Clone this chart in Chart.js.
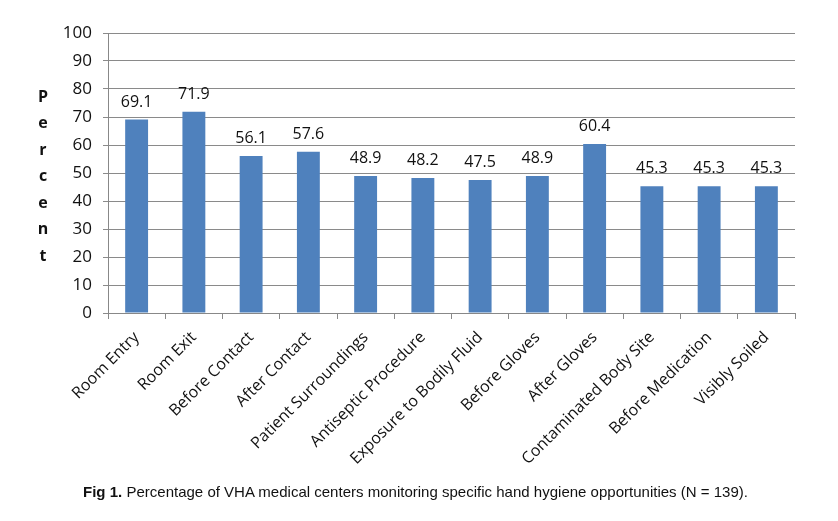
<!DOCTYPE html>
<html>
<head>
<meta charset="utf-8">
<script src="https://cdn.jsdelivr.net/npm/chart.js@4"></script>
<style>
  html, body { margin: 0; padding: 0; background: #fff; }
  #wrap { position: relative; width: 838px; height: 521px; }
  #c { position: absolute; left: 0; top: 0; }
  #caption { position: absolute; left: 83px; top: 483px; white-space: nowrap;
    font-family: "Liberation Sans Narrow", "Liberation Sans", sans-serif; font-size: 15px; color: #111;
    transform-origin: 0 0; }
  #caption b { font-weight: bold; }
</style>
</head>
<body>
<div id="wrap">
  <canvas id="c" width="838" height="521"></canvas>
  <div id="caption"><b>Fig 1.</b> Percentage of VHA medical centers monitoring specific hand hygiene opportunities (N = 139).</div>
</div>
<script>
const categories = ["Room Entry", "Room Exit", "Before Contact", "After Contact", "Patient Surroundings",
  "Antiseptic Procedure", "Exposure to Bodily Fluid", "Before Gloves", "After Gloves",
  "Contaminated Body Site", "Before Medication", "Visibly Soiled"];
const percentValues = [69.1, 71.9, 56.1, 57.6, 48.9, 48.2, 47.5, 48.9, 60.4, 45.3, 45.3, 45.3];
const yAxisTitle = "Percent";
const yMin = 0, yMax = 100, yStep = 10;

const FONT = '"Open Sans", sans-serif';

const valueLabels = {
  id: 'valueLabels',
  afterDatasetsDraw(chart) {
    const ctx = chart.ctx;
    const meta = chart.getDatasetMeta(0);
    ctx.save();
    ctx.font = '16px ' + FONT;
    ctx.fillStyle = '#111';
    ctx.textAlign = 'center';
    ctx.textBaseline = 'alphabetic';
    meta.data.forEach((bar, i) => {
      ctx.fillText(percentValues[i].toFixed(1), bar.x, bar.y - 13);
    });
    ctx.restore();
  }
};

const stackedTitle = {
  id: 'stackedTitle',
  afterDraw(chart) {
    const ctx = chart.ctx;
    const ys = chart.scales.y;
    ctx.save();
    ctx.font = 'bold 16px ' + FONT;
    ctx.fillStyle = '#111';
    ctx.textAlign = 'center';
    ctx.textBaseline = 'middle';
    const letters = yAxisTitle.split('');
    const top = ys.getPixelForValue(80) + 8;
    const bottom = ys.getPixelForValue(20) - 1;
    const step = (bottom - top) / (letters.length - 1);
    letters.forEach((ch, i) => ctx.fillText(ch, 43, top + i * step));
    ctx.restore();
  }
};

new Chart(document.getElementById('c'), {
  type: 'bar',
  data: {
    labels: categories,
    datasets: [{
      data: percentValues,
      backgroundColor: '#4F81BD',
      borderWidth: 0,
      barPercentage: 0.4,
      categoryPercentage: 1.0
    }]
  },
  options: {
    responsive: false,
    animation: false,
    devicePixelRatio: 1,
    layout: { padding: { top: 33, right: 43, bottom: 0, left: 0 } },
    plugins: { legend: { display: false }, tooltip: { enabled: false } },
    scales: {
      x: {
        offset: true,
        grid: { display: true, drawOnChartArea: false, offset: true, color: '#888', tickLength: 6 },
        border: { color: '#888' },
        ticks: { minRotation: 45, maxRotation: 45, autoSkip: false, color: '#111',
          font: { family: FONT, size: 16 }, padding: 9 },
        afterFit(scale) { scale.height = 208; }
      },
      y: {
        min: yMin, max: yMax,
        grid: { color: '#8a8a8a', tickLength: 5 },
        border: { color: '#888' },
        ticks: { stepSize: yStep, color: '#111', padding: 11, font: { family: FONT, size: 17 } },
        afterFit(scale) { scale.width = 108; }
      }
    }
  },
  plugins: [valueLabels, stackedTitle]
});

// fit caption width to reference
const cap = document.getElementById('caption');
const w = cap.getBoundingClientRect().width;
cap.style.transform = 'scaleX(' + (665 / w) + ')';
</script>
</body>
</html>
